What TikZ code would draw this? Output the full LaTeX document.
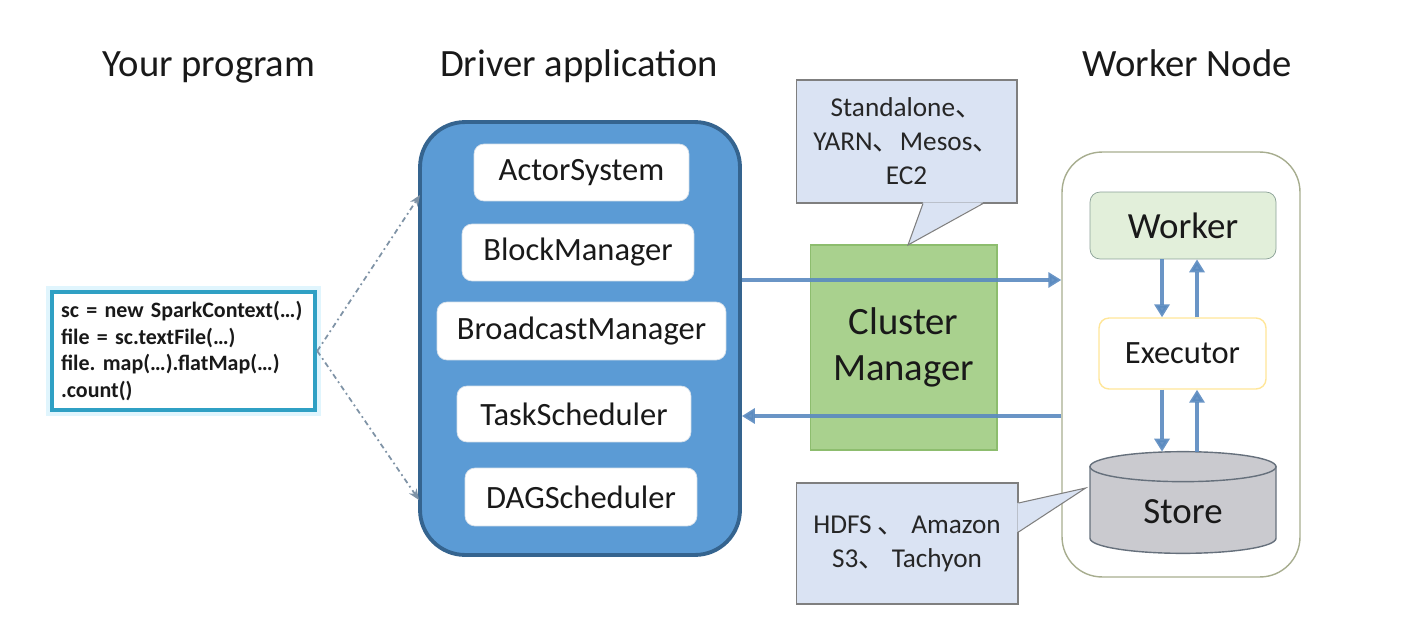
\documentclass[tikz,border=0pt]{standalone}
\usepackage{fontspec}
\setmainfont{Carlito}
\newfontfamily\cjk{Noto Sans CJK SC}
\usetikzlibrary{arrows.meta}
\frenchspacing

\definecolor{drvblue}{HTML}{5B9BD5}
\definecolor{drvline}{HTML}{35648F}
\definecolor{flowblue}{HTML}{5A8AC0}
\definecolor{codeline}{HTML}{2FA0C4}
\definecolor{cmgreen}{HTML}{A9D18E}
\definecolor{cmline}{HTML}{8DBD6E}
\definecolor{callfill}{HTML}{DAE3F3}
\definecolor{callline}{HTML}{7F7F7F}
\definecolor{wkgreen}{HTML}{E2EFDA}
\definecolor{wkline}{HTML}{8AA096}
\definecolor{exline}{HTML}{FFE699}
\definecolor{nodeline}{HTML}{A7AD8F}
\definecolor{storefill}{HTML}{CACACF}
\definecolor{storeline}{HTML}{66707C}
\definecolor{hintgray}{HTML}{7F93A6}

\tikzset{
  title/.style={font=\fontsize{22}{26}\selectfont, text=black!90, anchor=base},
  part/.style={rectangle, rounded corners=0.2cm, fill=white, draw=white!80!drvline,
    font=\fontsize{18.5}{22}\selectfont, text=black!90},
  codebox/.style={rectangle, draw=codeline, line width=2.6pt, fill=white,
    preaction={draw=cyan!12, line width=6.5pt},
    align=left, text width=4.9cm, inner sep=0.18cm, minimum height=2.36cm,
    font=\fontsize{12.5}{15.3}\selectfont\bfseries, text=black!90},
  callbox/.style={rectangle, fill=callfill, draw=callline, line width=0.6pt,
    align=center, font=\fontsize{15.5}{19.3}\selectfont, text=black!85},
  flow/.style={draw=flowblue, line width=2.3pt, opacity=0.9,
    -{Triangle[length=2.6mm,width=3mm]}},
  hint/.style={draw=hintgray, line width=1pt, dash dot,
    -{Stealth[length=2.2mm,width=1.8mm]}}
}

\begin{document}
\begin{tikzpicture}[x=0.02cm, y=-0.02cm]
    \useasboundingbox (0,0) rectangle (1422,628);

    \node (t-prog) at (209,77) [title] {Your program};
    \node (t-drv) at (579,77) [title] {Driver application};
    \node (t-wk) at (1187,77) [title] {Worker Node};

    \node (code) at (183.5,351) [codebox] {sc = new SparkContext(\dots)\\file = sc.textFile(\dots)\\file. map(\dots).flatMap(\dots)\\.count()};

    \node (driver) at (580,338.5) [rectangle, rounded corners=0.9cm, fill=drvblue, draw=drvline,
      line width=2.2pt, minimum width=6.4cm, minimum height=8.66cm] {};

    \node (actor) at (581.5,172.5) [part, minimum width=4.3cm, minimum height=1.14cm] {ActorSystem};
    \node (block) at (578,252.5) [part, minimum width=4.64cm, minimum height=1.14cm] {BlockManager};
    \node (bcast) at (581.5,331) [part, minimum width=5.78cm, minimum height=1.16cm] {BroadcastManager};
    \node (task) at (574,414) [part, minimum width=4.68cm, minimum height=1.12cm] {TaskScheduler};
    \node (dag) at (581,497) [part, minimum width=4.64cm, minimum height=1.16cm] {DAGScheduler};

    \coordinate (in-1) at (420,195);
    \coordinate (in-2) at (419,500);
    \draw[hint] (code.east) -- (in-1);
    \draw[hint] (code.east) -- (in-2);

    \node (cluster) at (903.5,347.5) [rectangle, fill=cmgreen, draw=cmline, line width=0.6pt,
      minimum width=3.74cm, minimum height=4.1cm, align=center,
      font=\fontsize{22}{26}\selectfont, text=black!90] {Cluster\\Manager};

    % callouts
    \node (call-1) at (906.5,141.5) [callbox, minimum width=4.42cm, minimum height=2.46cm]
      {Standalone{\cjk 、}\\YARN{\cjk 、}Mesos{\cjk 、}\\EC2};
    \coordinate (tip-1) at (908,245);
    \fill[callfill] ([xshift=0.33cm,yshift=0.6pt]call-1.south) -- (tip-1) -- ([xshift=1.53cm,yshift=0.6pt]call-1.south) -- cycle;
    \draw[callline, line width=0.6pt] ([xshift=0.33cm]call-1.south) -- (tip-1) -- ([xshift=1.53cm]call-1.south);

    \node (wnode) at (1181,364.5) [rectangle, rounded corners=0.8cm, draw=nodeline, line width=0.8pt,
      minimum width=4.76cm, minimum height=8.5cm] {};

    \node (worker) at (1183,225.5) [rectangle, rounded corners=0.2cm, fill=wkgreen, draw=wkline,
      minimum width=3.72cm, minimum height=1.34cm, font=\fontsize{21}{25}\selectfont, text=black!90] {Worker};
    \node (exec) at (1182.5,353.5) [rectangle, rounded corners=0.2cm, fill=white, draw=exline, line width=0.8pt,
      minimum width=3.34cm, minimum height=1.42cm, font=\fontsize{18.5}{22}\selectfont, text=black!90] {Executor};

    \node (store) at (1183,502.5) [rectangle, inner sep=0pt, minimum width=3.72cm, minimum height=2.02cm] {};
    \coordinate (st-top) at ([yshift=-0.3cm]store.north);
    \coordinate (st-bot) at ([yshift=0.3cm]store.south);
    \draw[fill=storefill, draw=storeline, line width=0.8pt] ([xshift=-1.86cm]st-top) -- ([xshift=-1.86cm]st-bot)
      arc[start angle=180, end angle=360, x radius=1.86cm, y radius=0.3cm] -- ([xshift=1.86cm]st-top) -- cycle;
    \draw[fill=storefill, draw=storeline, line width=0.8pt] (st-top) ellipse [x radius=1.86cm, y radius=0.3cm];
    \node (store-txt) at ([yshift=-0.19cm]store.center) [font=\fontsize{21}{25}\selectfont, text=black!90] {Store};

    \node (call-2) at (907,543.5) [callbox, minimum width=4.44cm, minimum height=2.42cm]
      {HDFS {\cjk 、} Amazon\\S3{\cjk 、} Tachyon};
    \coordinate (tip-2) at ([xshift=-0.08cm,yshift=0.29cm]store.west);
    \fill[callfill] ([xshift=-0.6pt,yshift=0.81cm]call-2.east) -- (tip-2) -- ([xshift=-0.6pt,yshift=0.23cm]call-2.east) -- cycle;
    \draw[callline, line width=0.6pt] ([yshift=0.81cm]call-2.east) -- (tip-2) -- ([yshift=0.23cm]call-2.east);

    \coordinate (req) at (0,280);
    \coordinate (rep) at (0,416);
    \draw[flow] (driver.east |- req) -- (wnode.west |- req);
    \draw[flow] (wnode.west |- rep) -- (driver.east |- rep);

    \draw[flow] ([xshift=-0.42cm]worker.south) -- ([xshift=-0.42cm]worker.south |- exec.north);
    \draw[flow] ([xshift=0.28cm]worker.south |- exec.north) -- ([xshift=0.28cm]worker.south);
    \draw[flow] ([xshift=-0.42cm]worker.south |- exec.south) -- ([xshift=-0.42cm]worker.south |- store.north);
    \draw[flow] ([xshift=0.28cm]worker.south |- store.north) -- ([xshift=0.28cm]worker.south |- exec.south);

\end{tikzpicture}
\end{document}
